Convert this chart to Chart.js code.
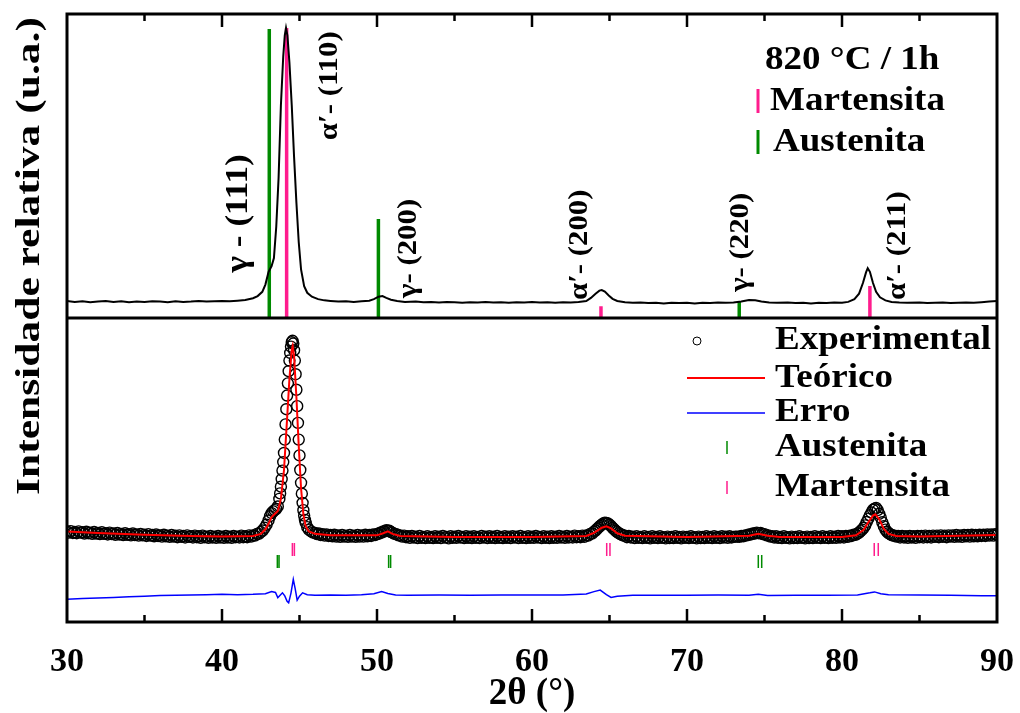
<!DOCTYPE html>
<html>
<head>
<meta charset="utf-8">
<script src="https://cdn.jsdelivr.net/npm/chart.js@4.4.0/dist/chart.umd.min.js"></script>
<style>
  html, body { margin: 0; padding: 0; background: #fff; }
  #wrap { width: 1020px; height: 713px; }
</style>
</head>
<body>
<div id="wrap"><canvas id="xrdChart" width="1020" height="713"></canvas></div>
<script>
// ---- data (2theta in degrees, relative intensity 0-100 per panel) ----

// upper panel: measured pattern, 820 C / 1h
const topPattern = [
  [30,5.6],[30.5,5.3],[31,5.5],[31.5,5.2],[32,5.4],[32.5,5.6],[33,5.3],[33.5,5.5],[34,5.2],[34.5,5.4],
  [35,5.3],[35.5,5.5],[36,5.4],[36.5,5.2],[37,5.5],[37.5,5.3],[38,5.4],[38.5,5.6],[39,5.4],[39.5,5.5],
  [40,5.6],[40.5,5.5],[41,5.7],[41.5,5.9],[42,6.5],[42.3,7.2],[42.6,8.6],[42.8,11.0],[43.0,15.1],[43.2,17.1],
  [43.35,19.7],[43.5,30],[43.65,46],[43.8,70],[43.95,86],[44.05,93],[44.13,95.4],[44.22,93],[44.35,84],[44.5,70],
  [44.65,53],[44.8,38],[44.95,25],[45.1,16],[45.3,10.5],[45.5,8.3],[45.8,7.0],[46.2,6.2],[46.6,5.8],[47,5.6],
  [47.5,5.4],[48,5.5],[48.5,5.3],[49,5.5],[49.5,5.7],[49.8,6.2],[50.1,7.0],[50.35,7.2],[50.6,6.6],[50.9,6.0],
  [51.3,5.6],[51.8,5.3],[52.5,5.4],[53,5.2],[53.5,5.3],[54,5.1],[54.5,5.3],[55,5.2],[55.5,5.0],[56,5.2],
  [56.5,5.1],[57,5.3],[57.5,5.1],[58,5.2],[58.5,5.0],[59,5.2],[59.5,5.1],[60,5.3],[60.5,5.1],[61,5.2],
  [61.5,5.0],[62,5.2],[62.5,5.1],[63,5.3],[63.5,5.6],[63.8,6.6],[64.1,8.0],[64.35,9.0],[64.5,9.2],[64.7,8.7],
  [64.95,7.4],[65.2,6.3],[65.5,5.6],[66,5.2],[66.5,5.0],[67,5.1],[67.5,4.9],[68,5.0],[68.5,4.8],[69,5.0],
  [69.5,4.9],[70,5.0],[70.5,4.8],[71,5.0],[71.5,4.9],[72,5.1],[72.5,5.0],[73,5.1],[73.5,5.4],[74,5.9],
  [74.4,5.8],[74.8,5.4],[75.3,5.1],[75.8,5.0],[76.5,5.1],[77,4.9],[77.5,5.0],[78,4.8],[78.5,5.0],[79,4.9],
  [79.5,5.1],[80,5.0],[80.4,5.3],[80.8,6.2],[81.1,8.0],[81.35,11.5],[81.55,15.0],[81.66,16.4],[81.8,15.2],[82.0,11.5],
  [82.2,8.6],[82.45,6.8],[82.8,5.8],[83.2,5.3],[83.7,5.1],[84.2,5.0],[85,5.1],[85.5,4.9],[86,5.0],[86.5,5.1],
  [87,4.9],[87.5,5.0],[88,5.1],[88.5,5.0],[89,5.2],[89.5,5.4],[90,5.6]
];

// upper panel: reference lines (position, height)
const topAustenite  = [[43.05,95.1],[50.09,32.6],[73.37,5.4]];
const topMartensite = [[44.17,95.4],[64.45,3.9],[81.8,10.5]];

// upper panel: peak labels (text, 2theta, intensity where the text starts, font size)
const peakLabels = [
  ['\u03B3 - (111)', 41.05, 15.0, 32],
  ['\u03B1\u2032- (110)', 46.95, 58.5, 28],
  ['\u03B3- (200)', 52.05, 6.6, 28],
  ['\u03B1\u2032- (200)', 63.1, 5.9, 28],
  ['\u03B3- (220)', 73.5, 8.6, 28],
  ['\u03B1\u2032- (211)', 83.6, 5.9, 28]
];

// lower panel: Rietveld refinement, observed points
const experimental = [
  [30.000,29.8],[30.125,29.4],[30.250,29.9],[30.375,29.3],[30.500,29.6],[30.625,29.2],[30.750,29.8],[30.875,29.4],
  [31.000,29.5],[31.125,29.1],[31.250,29.7],[31.375,29.2],[31.500,29.4],[31.625,29.0],[31.750,29.6],[31.875,29.1],
  [32.000,29.3],[32.125,28.9],[32.250,29.5],[32.375,29.0],[32.500,29.2],[32.625,28.8],[32.750,29.4],[32.875,28.9],
  [33.000,29.1],[33.125,28.7],[33.250,29.3],[33.375,28.8],[33.500,29.0],[33.625,28.6],[33.750,29.2],[33.875,28.7],
  [34.000,28.9],[34.125,28.5],[34.250,29.1],[34.375,28.6],[34.500,28.8],[34.625,28.4],[34.750,29.0],[34.875,28.5],
  [35.000,28.7],[35.125,28.3],[35.250,28.9],[35.375,28.4],[35.500,28.6],[35.625,28.2],[35.750,28.8],[35.875,28.3],
  [36.000,28.5],[36.125,28.1],[36.250,28.7],[36.375,28.2],[36.500,28.4],[36.625,28.0],[36.750,28.6],[36.875,28.1],
  [37.000,28.4],[37.125,27.9],[37.250,28.5],[37.375,28.0],[37.500,28.3],[37.625,27.8],[37.750,28.5],[37.875,28.0],
  [38.000,28.2],[38.125,27.8],[38.250,28.4],[38.375,27.9],[38.500,28.2],[38.625,27.7],[38.750,28.4],[38.875,27.9],
  [39.000,28.1],[39.125,27.7],[39.250,28.3],[39.375,27.8],[39.500,28.1],[39.625,27.7],[39.750,28.3],[39.875,27.8],
  [40.000,28.1],[40.125,27.7],[40.250,28.3],[40.375,27.8],[40.500,28.1],[40.625,27.7],[40.750,28.3],[40.875,27.9],
  [41.000,28.1],[41.125,27.8],[41.250,28.4],[41.375,27.9],[41.500,28.2],[41.625,27.9],[41.750,28.5],[41.875,28.1],
  [42.000,28.5],[42.125,28.4],[42.250,29.0],[42.375,29.0],[42.500,29.6],[42.625,30.1],[42.750,31.0],[42.875,32.0],
  [43.00,33.4],[43.10,34.8],[43.20,35.8],[43.30,36.4],[43.40,36.8],[43.50,37.2],[43.60,38.0],[43.70,40.5],
  [43.75,42.3],[43.80,44.5],[43.85,47.0],[43.90,49.8],[43.95,52.6],[44.00,55.6],[44.05,60.0],[44.10,65.0],
  [44.15,70.0],[44.20,74.5],[44.25,78.5],[44.30,82.5],[44.35,86.0],[44.40,88.5],[44.45,90.6],[44.50,92.0],
  [44.55,92.5],[44.60,91.6],[44.65,89.4],[44.70,86.0],[44.75,81.5],[44.80,76.4],[44.85,71.0],[44.90,65.5],
  [44.95,60.0],[45.00,54.8],[45.05,50.0],[45.10,45.8],[45.15,42.2],[45.20,39.2],[45.25,36.8],[45.30,35.0],
  [45.35,33.6],[45.40,32.6],[45.50,31.2],[45.60,30.4],[45.75,29.8],[45.875,29.4],
  [46.000,29.3],[46.125,28.9],[46.250,29.1],[46.375,28.6],[46.500,28.9],[46.625,28.4],[46.750,28.8],[46.875,28.3],
  [47.000,28.6],[47.125,28.2],[47.250,28.7],[47.375,28.1],[47.500,28.5],[47.625,28.0],[47.750,28.6],[47.875,28.1],
  [48.000,28.4],[48.125,28.0],[48.250,28.6],[48.375,28.1],[48.500,28.4],[48.625,28.0],[48.750,28.6],[48.875,28.1],
  [49.000,28.5],[49.125,28.1],[49.250,28.7],[49.375,28.2],[49.500,28.6],[49.625,28.3],[49.750,28.8],[49.875,28.6],
  [50.0,29.0],[50.1,29.0],[50.2,29.4],[50.3,29.4],[50.4,29.8],[50.5,29.8],[50.6,30.2],[50.7,30.0],
  [50.8,30.0],[50.9,29.6],[51.0,29.4],[51.125,29.0],[51.250,28.9],[51.375,28.5],[51.500,28.5],[51.625,28.1],
  [51.750,28.4],[51.875,27.9],
  [52.000,28.2],[52.125,27.7],[52.250,28.3],[52.375,27.8],[52.500,28.1],[52.625,27.6],[52.750,28.3],[52.875,27.7],
  [53.000,28.0],[53.125,27.6],[53.250,28.2],[53.375,27.7],[53.500,28.0],[53.625,27.6],[53.750,28.2],[53.875,27.7],
  [54.000,28.1],[54.125,27.6],[54.250,28.3],[54.375,27.8],[54.500,28.0],[54.625,27.5],[54.750,28.2],[54.875,27.7],
  [55.000,28.1],[55.125,27.7],[55.250,28.3],[55.375,27.8],[55.500,28.0],[55.625,27.6],[55.750,28.2],[55.875,27.7],
  [56.000,28.1],[56.125,27.6],[56.250,28.2],[56.375,27.7],[56.500,28.0],[56.625,27.6],[56.750,28.3],[56.875,27.8],
  [57.000,28.1],[57.125,27.6],[57.250,28.2],[57.375,27.7],[57.500,28.1],[57.625,27.6],[57.750,28.3],[57.875,27.7],
  [58.000,28.0],[58.125,27.6],[58.250,28.2],[58.375,27.7],[58.500,28.1],[58.625,27.6],[58.750,28.2],[58.875,27.8],
  [59.000,28.1],[59.125,27.6],[59.250,28.3],[59.375,27.7],[59.500,28.0],[59.625,27.6],[59.750,28.2],[59.875,27.7],
  [60.000,28.1],[60.125,27.7],[60.250,28.3],[60.375,27.8],[60.500,28.0],[60.625,27.6],[60.750,28.2],[60.875,27.7],
  [61.000,28.1],[61.125,27.6],[61.250,28.2],[61.375,27.7],[61.500,28.1],[61.625,27.7],[61.750,28.3],[61.875,27.8],
  [62.000,28.1],[62.125,27.7],[62.250,28.3],[62.375,27.8],[62.500,28.1],[62.625,27.8],[62.750,28.4],[62.875,27.9],
  [63.000,28.2],[63.125,27.9],[63.250,28.4],[63.375,28.0],
  [63.5,28.5],[63.625,28.4],[63.75,29.0],[63.875,29.1],[64.0,29.7],[64.1,30.1],[64.2,30.6],[64.3,31.1],
  [64.4,31.6],[64.5,32.0],[64.6,32.4],[64.7,32.7],[64.8,32.6],[64.9,32.4],[65.0,32.0],[65.1,31.5],
  [65.2,31.0],[65.3,30.5],[65.4,30.0],[65.5,29.6],[65.6,29.2],[65.7,28.9],[65.8,28.7],[65.9,28.4],
  [66.000,28.4],[66.125,27.9],[66.250,28.3],[66.375,27.8],[66.500,28.1],[66.625,27.6],[66.750,28.2],[66.875,27.7],
  [67.000,28.0],[67.125,27.6],[67.250,28.2],[67.375,27.7],[67.500,28.0],[67.625,27.5],[67.750,28.2],[67.875,27.7],
  [68.000,28.0],[68.125,27.6],[68.250,28.2],[68.375,27.7],[68.500,27.9],[68.625,27.5],[68.750,28.1],[68.875,27.6],
  [69.000,28.0],[69.125,27.6],[69.250,28.2],[69.375,27.7],[69.500,28.0],[69.625,27.5],[69.750,28.1],[69.875,27.7],
  [70.000,28.0],[70.125,27.6],[70.250,28.2],[70.375,27.7],[70.500,27.9],[70.625,27.5],[70.750,28.1],[70.875,27.6],
  [71.000,28.0],[71.125,27.6],[71.250,28.2],[71.375,27.7],[71.500,28.0],[71.625,27.6],[71.750,28.2],[71.875,27.7],
  [72.000,28.0],[72.125,27.6],[72.250,28.2],[72.375,27.8],[72.500,28.1],[72.625,27.7],[72.750,28.2],[72.875,27.8],
  [73.0,28.0],[73.125,28.1],[73.25,28.1],[73.375,28.0],[73.5,28.3],[73.625,28.2],[73.75,28.5],[73.875,28.5],
  [74.0,28.8],[74.125,28.8],[74.25,29.1],[74.375,29.1],[74.5,29.4],[74.625,29.2],[74.75,29.3],[74.875,28.9],
  [75.0,28.9],[75.125,28.5],[75.25,28.5],[75.375,28.1],[75.5,28.2],[75.625,27.8],[75.75,28.2],[75.875,27.7],
  [76.000,28.0],[76.125,27.6],[76.250,28.2],[76.375,27.7],[76.500,27.9],[76.625,27.5],[76.750,28.1],[76.875,27.6],
  [77.000,28.0],[77.125,27.6],[77.250,28.2],[77.375,27.7],[77.500,27.9],[77.625,27.5],[77.750,28.1],[77.875,27.6],
  [78.000,28.0],[78.125,27.6],[78.250,28.2],[78.375,27.7],[78.500,28.0],[78.625,27.6],[78.750,28.2],[78.875,27.7],
  [79.000,28.0],[79.125,27.6],[79.250,28.2],[79.375,27.7],[79.500,28.1],[79.625,27.7],[79.750,28.3],[79.875,27.8],
  [80.000,28.2],[80.125,27.8],[80.250,28.3],[80.375,28.0],
  [80.5,28.4],[80.625,28.3],[80.75,28.7],[80.875,28.7],[81.0,29.1],[81.1,29.4],[81.2,29.9],[81.3,30.4],
  [81.4,31.0],[81.5,31.8],[81.6,32.9],[81.7,34.0],[81.8,35.1],[81.9,36.0],[82.0,36.9],[82.1,37.3],
  [82.2,37.5],[82.3,36.8],[82.4,35.6],[82.5,34.3],[82.6,32.8],[82.7,31.5],[82.8,30.4],[82.9,29.7],
  [83.0,29.2],[83.1,28.9],[83.2,28.6],[83.3,28.4],[83.4,28.4],[83.5,28.1],[83.625,28.3],[83.75,27.8],
  [83.875,28.3],[84.000,27.8],[84.125,28.2],[84.250,27.7],[84.375,28.3],[84.500,27.8],[84.625,28.2],[84.750,27.7],
  [84.875,28.3],[85.000,27.9],[85.125,28.3],[85.250,27.8],[85.375,28.4],[85.500,27.9],[85.625,28.3],[85.750,27.8],
  [85.875,28.4],[86.000,28.0],[86.125,28.4],[86.250,27.9],[86.375,28.5],[86.500,28.0],[86.625,28.4],[86.750,27.9],
  [86.875,28.5],[87.000,28.1],[87.125,28.5],[87.250,28.0],[87.375,28.6],[87.500,28.1],[87.625,28.5],[87.750,28.0],
  [87.875,28.6],[88.000,28.2],[88.125,28.6],[88.250,28.1],[88.375,28.7],[88.500,28.2],[88.625,28.6],[88.750,28.2],
  [88.875,28.7],[89.000,28.3],[89.125,28.7],[89.250,28.3],[89.375,28.8],[89.500,28.4],[89.625,28.8],[89.750,28.4],
  [89.875,28.9],[90.000,28.6]
];

// calculated profile
const calculated = [
  [30,29.8],[32,29.3],[35,28.7],[38,28.3],[40,28.1],[42,28.3],[42.5,29.0],[42.8,30.5],[43.0,32.3],[43.2,34.5],
  [43.4,35.5],[43.6,36.5],[43.8,40.5],[44.0,50],[44.2,67],[44.35,80],[44.5,89.5],[44.56,90.8],[44.65,87.5],[44.8,74],
  [44.95,58],[45.1,44],[45.25,35.5],[45.4,31.5],[45.6,29.8],[46,29.0],[47,28.5],[50,28.5],[50.4,29.2],[50.7,29.8],
  [51.0,29.0],[51.5,28.3],[55,28.0],[60,28.0],[63.5,28.3],[64.0,29.3],[64.5,31.0],[64.8,31.5],[65.1,30.8],[65.5,29.2],
  [66,28.4],[70,28.0],[74.0,28.4],[74.6,29.0],[75.2,28.4],[76,28.0],[80,28.0],[80.9,28.5],[81.4,30.3],[81.7,32.8],
  [82.0,35.0],[82.15,35.4],[82.4,33.8],[82.7,30.6],[83.0,29.0],[83.5,28.3],[85,28.1],[90,28.6]
];

// observed minus calculated
const difference = [
  [30,7.5],[31,7.7],[32,7.9],[33,8.1],[34,8.3],[35,8.5],[36,8.7],[37,8.8],[38,8.9],[39,9.0],
  [40,9.1],[41,9.0],[42,9.1],[42.8,9.3],[43.2,10.0],[43.45,9.7],[43.6,8.0],[43.75,8.8],[43.9,9.6],[44.05,8.6],
  [44.2,6.8],[44.3,6.3],[44.45,9.5],[44.6,14.0],[44.72,11.0],[44.85,7.2],[45.0,8.5],[45.2,9.6],[45.5,9.0],[46,8.8],
  [47,8.9],[48,8.8],[49,9.0],[49.8,9.3],[50.3,10.0],[50.7,9.4],[51.2,8.9],[52,8.8],[54,8.9],[56,8.8],
  [58,8.9],[60,8.9],[62,8.9],[63.5,9.2],[64.0,10.0],[64.4,10.5],[64.8,9.0],[65.1,8.1],[65.5,8.5],[66.5,8.8],
  [68,8.8],[70,8.8],[72,8.9],[74,8.8],[74.6,9.1],[75.2,8.7],[77,8.8],[79,8.8],[81,8.9],[81.8,9.6],
  [82.1,9.9],[82.5,9.3],[83,9.0],[85,8.9],[87,8.8],[89,8.6],[90,8.6]
];

// lower panel: Bragg reflection marks (K-alpha1 / K-alpha2 pairs)
const braggAustenite  = [43.57, 43.68, 50.75, 50.88, 74.60, 74.82];
const braggMartensite = [44.54, 44.67, 64.82, 65.03, 82.08, 82.34];
const austeniteMarkRange  = [17.8, 22.0];
const martensiteMarkRange = [21.7, 26.0];

const xTicks = [30, 40, 50, 60, 70, 80, 90];

// ---- helpers ----
const SERIF = '"Liberation Serif", "Times New Roman", serif';
const GREEN = '#008a00';
const PINK = '#ff1c8d';

function toPoints(pairs) {
  return pairs.map(p => ({ x: p[0], y: p[1] }));
}

// vertical segments, broken with a null point between them
function segments(items) {
  const pts = [];
  items.forEach(([x, lo, hi]) => {
    pts.push({ x: x, y: lo }, { x: x, y: hi }, { x: x, y: null });
  });
  return pts;
}

// text stretched a little sideways, like the original figure
function wideText(ctx, txt, x, y, sx) {
  ctx.save();
  ctx.translate(x, y);
  ctx.scale(sx, 1);
  ctx.fillText(txt, 0, 0);
  ctx.restore();
}

const lineBase = { showLine: true, pointRadius: 0, tension: 0, spanGaps: false, fill: false };

// frame, inside ticks, labels, legends and y title
const decorations = {
  id: 'decorations',
  afterDraw(chart) {
    const ctx = chart.ctx;
    const a = chart.chartArea;
    const xs = chart.scales.x;
    const yTop = chart.scales.yTop;

    ctx.save();
    ctx.strokeStyle = '#000';
    ctx.lineWidth = 3;
    ctx.strokeRect(a.left, a.top, a.right - a.left, a.bottom - a.top);
    ctx.beginPath();
    ctx.moveTo(a.left, yTop.bottom);
    ctx.lineTo(a.right, yTop.bottom);
    ctx.stroke();

    // inside ticks on bottom and top edges
    ctx.lineWidth = 2.5;
    for (let v = 35; v < 90; v += 5) {
      const px = xs.getPixelForValue(v);
      const len = (v % 10 === 0) ? 13 : 7;
      ctx.beginPath();
      ctx.moveTo(px, a.bottom);
      ctx.lineTo(px, a.bottom - len);
      ctx.moveTo(px, a.top);
      ctx.lineTo(px, a.top + len);
      ctx.stroke();
    }

    // peak labels, rotated
    ctx.fillStyle = '#000';
    ctx.textBaseline = 'middle';
    ctx.textAlign = 'left';
    peakLabels.forEach(([txt, xv, yv, size]) => {
      ctx.save();
      ctx.font = 'bold ' + size + 'px ' + SERIF;
      ctx.translate(xs.getPixelForValue(xv), yTop.getPixelForValue(yv));
      ctx.rotate(-Math.PI / 2);
      ctx.scale(1.1, 1);
      ctx.fillText(txt, 0, 0);
      ctx.restore();
    });

    // upper legend
    ctx.font = 'bold 34px ' + SERIF;
    wideText(ctx, '820 \u00B0C / 1h', 765, 60, 1.09);
    wideText(ctx, 'Martensita', 770, 101, 1.09);
    wideText(ctx, 'Austenita', 773, 142, 1.09);
    ctx.lineWidth = 3;
    ctx.strokeStyle = PINK;
    ctx.beginPath(); ctx.moveTo(758, 89); ctx.lineTo(758, 113); ctx.stroke();
    ctx.strokeStyle = GREEN;
    ctx.beginPath(); ctx.moveTo(758, 130); ctx.lineTo(758, 154); ctx.stroke();

    // lower legend
    ctx.fillStyle = '#000';
    wideText(ctx, 'Experimental', 775, 340, 1.09);
    wideText(ctx, 'Te\u00F3rico', 775, 378, 1.09);
    wideText(ctx, 'Erro', 775, 412, 1.09);
    wideText(ctx, 'Austenita', 775, 447, 1.09);
    wideText(ctx, 'Martensita', 775, 487, 1.09);
    ctx.lineWidth = 1;
    ctx.strokeStyle = '#000';
    ctx.beginPath(); ctx.arc(697, 341, 4, 0, Math.PI * 2); ctx.stroke();
    ctx.lineWidth = 2;
    ctx.strokeStyle = '#ff0000';
    ctx.beginPath(); ctx.moveTo(687, 378); ctx.lineTo(765, 378); ctx.stroke();
    ctx.lineWidth = 1.5;
    ctx.strokeStyle = '#0000ff';
    ctx.beginPath(); ctx.moveTo(687, 413); ctx.lineTo(765, 413); ctx.stroke();
    ctx.strokeStyle = GREEN;
    ctx.beginPath(); ctx.moveTo(727, 441); ctx.lineTo(727, 454); ctx.stroke();
    ctx.strokeStyle = PINK;
    ctx.beginPath(); ctx.moveTo(727, 481); ctx.lineTo(727, 494); ctx.stroke();

    // y axis title
    ctx.save();
    ctx.translate(30, 256);
    ctx.rotate(-Math.PI / 2);
    ctx.textAlign = 'center';
    ctx.font = 'bold 34px ' + SERIF;
    ctx.fillStyle = '#000';
    ctx.scale(1.28, 1);
    ctx.fillText('Intensidade relativa (u.a.)', 0, 0);
    ctx.restore();

    ctx.restore();
  }
};

const ctx = document.getElementById('xrdChart').getContext('2d');
const xrdChart = new Chart(ctx, {
  type: 'scatter',
  data: {
    datasets: [
      // upper panel
      Object.assign({}, lineBase, {
        label: '820 C / 1h', data: toPoints(topPattern), yAxisID: 'yTop',
        borderColor: '#000', borderWidth: 2
      }),
      Object.assign({}, lineBase, {
        label: 'Martensita', yAxisID: 'yTop', borderColor: PINK, borderWidth: 3.5,
        data: segments(topMartensite.map(p => [p[0], 0, p[1]]))
      }),
      Object.assign({}, lineBase, {
        label: 'Austenita', yAxisID: 'yTop', borderColor: GREEN, borderWidth: 3.5,
        data: segments(topAustenite.map(p => [p[0], 0, p[1]]))
      }),
      // lower panel
      Object.assign({}, lineBase, {
        label: 'Teórico', data: toPoints(calculated), yAxisID: 'yBot',
        borderColor: '#ff0000', borderWidth: 2
      }),
      {
        label: 'Experimental', data: toPoints(experimental), yAxisID: 'yBot',
        showLine: false, pointRadius: 5.5, pointStyle: 'circle', pointBorderWidth: 1.4,
        pointBorderColor: '#000', pointBackgroundColor: 'rgba(0,0,0,0)'
      },
      Object.assign({}, lineBase, {
        label: 'Erro', data: toPoints(difference), yAxisID: 'yBot',
        borderColor: '#0000ff', borderWidth: 1.5
      }),
      Object.assign({}, lineBase, {
        label: 'Austenita (Bragg)', yAxisID: 'yBot', borderColor: GREEN, borderWidth: 1.5,
        data: segments(braggAustenite.map(x => [x, austeniteMarkRange[0], austeniteMarkRange[1]]))
      }),
      Object.assign({}, lineBase, {
        label: 'Martensita (Bragg)', yAxisID: 'yBot', borderColor: PINK, borderWidth: 1.5,
        data: segments(braggMartensite.map(x => [x, martensiteMarkRange[0], martensiteMarkRange[1]]))
      })
    ]
  },
  options: {
    responsive: false,
    animation: false,
    layout: { padding: { top: 14, right: 23, left: 0, bottom: 0 } },
    plugins: { legend: { display: false }, tooltip: { enabled: false } },
    scales: {
      x: {
        type: 'linear', position: 'bottom', min: 30, max: 90,
        afterBuildTicks(s) { s.ticks = xTicks.map(v => ({ value: v })); },
        ticks: { color: '#000', padding: 20, font: { family: SERIF, size: 34, weight: 'bold' } },
        grid: { display: false, drawTicks: false },
        border: { display: false },
        title: {
          display: true, text: '2\u03B8 (\u00B0)', color: '#000',
          font: { family: SERIF, size: 37, weight: 'bold' }, padding: { top: 0, bottom: -4 }
        },
        afterFit(s) { s.height = 91; s.paddingLeft = 0; s.paddingRight = 0; }
      },
      yBot: {
        type: 'linear', position: 'left', min: 0, max: 100, stack: 'xrd', stackWeight: 1,
        ticks: { display: false }, grid: { display: false, drawTicks: false }, border: { display: false },
        afterFit(s) { s.width = 67; }
      },
      yTop: {
        type: 'linear', position: 'left', min: 0, max: 100, stack: 'xrd', stackWeight: 1,
        ticks: { display: false }, grid: { display: false, drawTicks: false }, border: { display: false },
        afterFit(s) { s.width = 67; }
      }
    }
  },
  plugins: [decorations]
});
</script>
</body>
</html>
